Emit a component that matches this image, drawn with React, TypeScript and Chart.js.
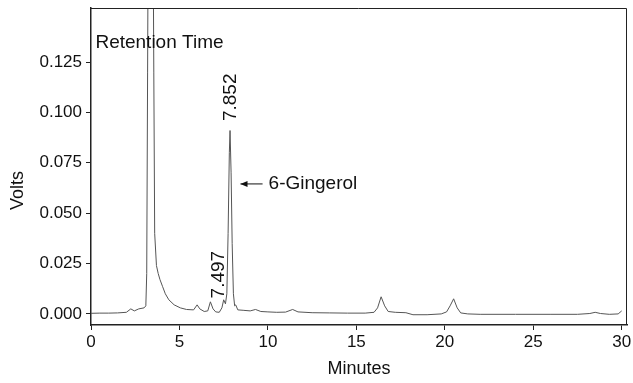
import React, { useEffect, useRef } from "react";
import { Chart, registerables } from "chart.js";

Chart.register(...registerables);

// Chromatogram trace (minutes, volts)
const times = [
  0.0, 0.5, 1.0, 1.5, 2.0, 2.25, 2.45, 2.7, 3.0, 3.1, 3.15, 3.2, 3.28, 3.45, 3.55, 3.6, 3.7, 3.8, 3.9,
  4.05, 4.2, 4.4, 4.7, 5.05, 5.4, 5.8, 6.0, 6.15, 6.4, 6.6, 6.75, 6.9, 7.05, 7.25, 7.4, 7.5, 7.6,
  7.68, 7.75, 7.82, 7.86, 7.92, 7.98, 8.05, 8.12, 8.18, 8.3, 8.6, 9.0, 9.3, 9.6, 10.0, 10.5, 11.0,
  11.4, 11.7, 12.5, 13.5, 14.5, 15.5, 16.0, 16.2, 16.4, 16.6, 16.8, 17.2, 17.8, 18.2, 19.0, 19.8,
  20.1, 20.3, 20.5, 20.7, 20.9, 21.3, 22.0, 24.0, 26.0, 27.5, 28.2, 28.5, 28.8, 29.3, 29.8, 30.0,
];
const volts = [
  0.0003, 0.0004, 0.0004, 0.0005, 0.0008, 0.0025, 0.0015, 0.0025, 0.003, 0.004, 0.02, 0.12, 0.3, 0.3,
  0.12, 0.04, 0.024, 0.02, 0.017, 0.0135, 0.01, 0.007, 0.0045, 0.003, 0.0022, 0.002, 0.0045, 0.0025,
  0.0012, 0.0015, 0.006, 0.0025, 0.001, 0.0008, 0.003, 0.007, 0.005, 0.01, 0.04, 0.08, 0.091, 0.07,
  0.035, 0.01, 0.004, 0.0045, 0.002, 0.0018, 0.0015, 0.0022, 0.0012, 0.001, 0.0008, 0.0009, 0.0022,
  0.001, 0.0006, 0.0005, 0.0004, 0.0004, 0.0008, 0.003, 0.0085, 0.004, 0.0012, 0.0008, 0.0006,
  -0.0004, -0.0004, 0.0, 0.001, 0.004, 0.0075, 0.003, 0.0005, 0.0, -0.0002, -0.0002, -0.0002,
  -0.0002, 0.0002, 0.0008, 0.0002, -0.0002, 0.0, 0.0015,
];

const xTickValues = [0, 5, 10, 15, 20, 25, 30];
const yTickValues = [0, 0.025, 0.05, 0.075, 0.1, 0.125];

const xTitle = "Minutes";
const yTitle = "Volts";
const headerLabel = "Retention Time";
const peakLabels = [
  { text: "7.852", t: 7.9, v: 0.1075 },
  { text: "7.497", t: 7.25, v: 0.0195 },
];
const compoundLabel = { text: "6-Gingerol", tFrom: 9.7, tTo: 8.45, v: 0.0645 };

const FONT = "'Liberation Sans', Arial, sans-serif";

export default function App() {
  const ref = useRef<HTMLCanvasElement | null>(null);

  useEffect(() => {
    document.body.style.margin = "0";
    const canvas = ref.current;
    if (!canvas) return;

    const annotations = {
      id: "annotations",
      afterDatasetsDraw(chart: any) {
        const { ctx, chartArea, scales } = chart;
        const xs = scales.x;
        const ys = scales.y;
        ctx.save();
        // frame (top & right)
        ctx.strokeStyle = "#222";
        ctx.lineWidth = 1;
        ctx.beginPath();
        ctx.moveTo(chartArea.left, chartArea.top + 0.5);
        ctx.lineTo(chartArea.right - 0.5, chartArea.top + 0.5);
        ctx.lineTo(chartArea.right - 0.5, chartArea.bottom);
        ctx.stroke();

        ctx.fillStyle = "#111";
        ctx.font = `19px ${FONT}`;
        ctx.textBaseline = "middle";
        ctx.textAlign = "left";
        ctx.fillText(headerLabel, xs.getPixelForValue(0.25), ys.getPixelForValue(0.1345));

        for (const p of peakLabels) {
          ctx.save();
          ctx.translate(xs.getPixelForValue(p.t), ys.getPixelForValue(p.v));
          ctx.rotate(-Math.PI / 2);
          ctx.textAlign = "center";
          ctx.textBaseline = "middle";
          ctx.fillText(p.text, 0, 0);
          ctx.restore();
        }

        const ay = ys.getPixelForValue(compoundLabel.v);
        const ax1 = xs.getPixelForValue(compoundLabel.tFrom);
        const ax2 = xs.getPixelForValue(compoundLabel.tTo);
        ctx.fillText(compoundLabel.text, ax1 + 6, ay);
        ctx.strokeStyle = "#111";
        ctx.lineWidth = 1;
        ctx.beginPath();
        ctx.moveTo(ax1, ay);
        ctx.lineTo(ax2, ay);
        ctx.stroke();
        ctx.beginPath();
        ctx.moveTo(ax2, ay);
        ctx.lineTo(ax2 + 7, ay - 3);
        ctx.lineTo(ax2 + 7, ay + 3);
        ctx.closePath();
        ctx.fill();

        // y title
        ctx.save();
        ctx.translate(18, (chartArea.top + chartArea.bottom) / 2 + 24);
        ctx.rotate(-Math.PI / 2);
        ctx.textAlign = "center";
        ctx.font = `18px ${FONT}`;
        ctx.fillText(yTitle, 0, 0);
        ctx.restore();
        ctx.restore();
      },
    };

    const chart = new Chart(canvas, {
      type: "line",
      data: {
        datasets: [
          {
            label: "Chromatogram",
            data: times.map((t, i) => ({ x: t, y: volts[i] })),
            borderColor: "#555",
            borderWidth: 1,
            pointRadius: 0,
            tension: 0,
            fill: false,
          },
        ],
      },
      options: {
        animation: false,
        responsive: false,
        layout: { padding: { top: 8, right: 6, left: 0, bottom: 0 } },
        plugins: { legend: { display: false }, tooltip: { enabled: false } },
        scales: {
          x: {
            type: "linear",
            min: 0,
            max: 30.3,
            afterFit: (s: any) => {
              s.height = 58;
              s.paddingLeft = 0;
              s.paddingRight = 0;
            },
            afterBuildTicks: (s: any) => {
              s.ticks = xTickValues.map((v) => ({ value: v }));
            },
            ticks: {
              color: "#111",
              font: { family: FONT, size: 17 },
              padding: 2,
              maxRotation: 0,
              callback: (v: any) => String(v),
            },
            grid: { drawOnChartArea: false, tickLength: 5, color: "#222" },
            border: { color: "#222", width: 1.5 },
            title: {
              display: true,
              text: xTitle,
              color: "#111",
              font: { family: FONT, size: 18 },
              padding: { top: 0, bottom: 3 },
            },
          },
          y: {
            type: "linear",
            min: -0.0055,
            max: 0.1518,
            afterFit: (s: any) => {
              s.width = 91;
              s.paddingTop = 0;
              s.paddingBottom = 0;
            },
            afterBuildTicks: (s: any) => {
              s.ticks = yTickValues.map((v) => ({ value: v }));
            },
            ticks: {
              color: "#111",
              font: { family: FONT, size: 17 },
              padding: 4,
              callback: (v: any) => Number(v).toFixed(3),
            },
            grid: { drawOnChartArea: false, tickLength: 5, color: "#222" },
            border: { color: "#222", width: 1.5 },
          },
        },
      },
      plugins: [annotations],
    });
    return () => chart.destroy();
  }, []);

  return (
    <div style={{ width: 633, height: 383 }}>
      <canvas ref={ref} width={633} height={383} style={{ display: "block" }} />
    </div>
  );
}
